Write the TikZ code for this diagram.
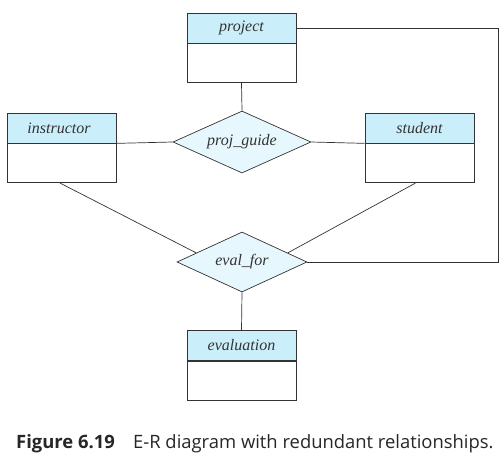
\documentclass[tikz,border=0pt]{standalone}
\usepackage{fontspec}
\setmainfont{Liberation Serif}
\newfontfamily\capfont{Open Sans}
\usetikzlibrary{shapes.geometric,calc}
\definecolor{hdr}{HTML}{CBEFFA}
\definecolor{dia}{HTML}{E6F7FD}
\definecolor{ln}{HTML}{333333}
\tikzset{
  ehead/.style={draw=ln, line width=0.7pt, fill=hdr, minimum width=109pt, minimum height=30pt, inner sep=0pt, text=ln, font=\fontsize{16}{18}\selectfont\itshape},
  ebody/.style={draw=ln, line width=0.7pt, fill=white, minimum width=109pt, minimum height=39pt, inner sep=0pt},
  rel/.style={draw=ln, line width=0.7pt, fill=dia, diamond, aspect=2.2, minimum width=138pt, minimum height=62pt, inner sep=0pt, text=ln, font=\fontsize{16}{18}\selectfont\itshape},
  conn/.style={draw=ln, line width=0.7pt}
}
\begin{document}
\begin{tikzpicture}[x=1pt,y=-1pt]
\useasboundingbox (0,0) rectangle (500,464);
% entities
\node[ehead] (projh) at (241.5,28) {project};
\node[ebody, anchor=north] (projb) at (projh.south) {};
\node[ehead] (insth) at (62,128) {\hspace{-6pt}instructor};
\node[ebody, anchor=north] (instb) at (insth.south) {};
\node[ehead] (studh) at (419.5,128) {student};
\node[ebody, anchor=north] (studb) at (studh.south) {};
\node[ehead] (evalh) at (241.5,345.5) {evaluation};
\node[ebody, anchor=north] (evalb) at (evalh.south) {};
% relationships
\node[rel] (pg) at (242,142) {proj\_guide};
\node[rel, minimum width=130pt, minimum height=60pt] (ef) at (242,262) {eval\_for};
% connectors
\coordinate (c1) at (498,28);
\coordinate (c2) at (498,262);
\draw[conn] (projb.south) -- (pg.north);
\draw[conn] (insth.south east) -- (pg.west);
\draw[conn] (studh.south west) -- (pg.east);
\draw[conn] (projh.east) -- (c1) -- (c2) -- (ef.east);
\draw[conn] ($(instb.south)+(-2,0)$) -- ($(ef.west)!0.3!(ef.north)$);
\draw[conn] ($(studb.south)+(-4,0)$) -- ($(ef.east)!0.3!(ef.north)$);
\draw[conn] (ef.south) -- (evalh.north);
% caption
\node[anchor=base west, font=\capfont\fontsize{18.4}{20}\selectfont, text=black!85, inner sep=0pt] (cap) at (16,448) {\textbf{Figure 6.19}\hspace{1em}E-R diagram with redundant relationships.};
\end{tikzpicture}
\end{document}
